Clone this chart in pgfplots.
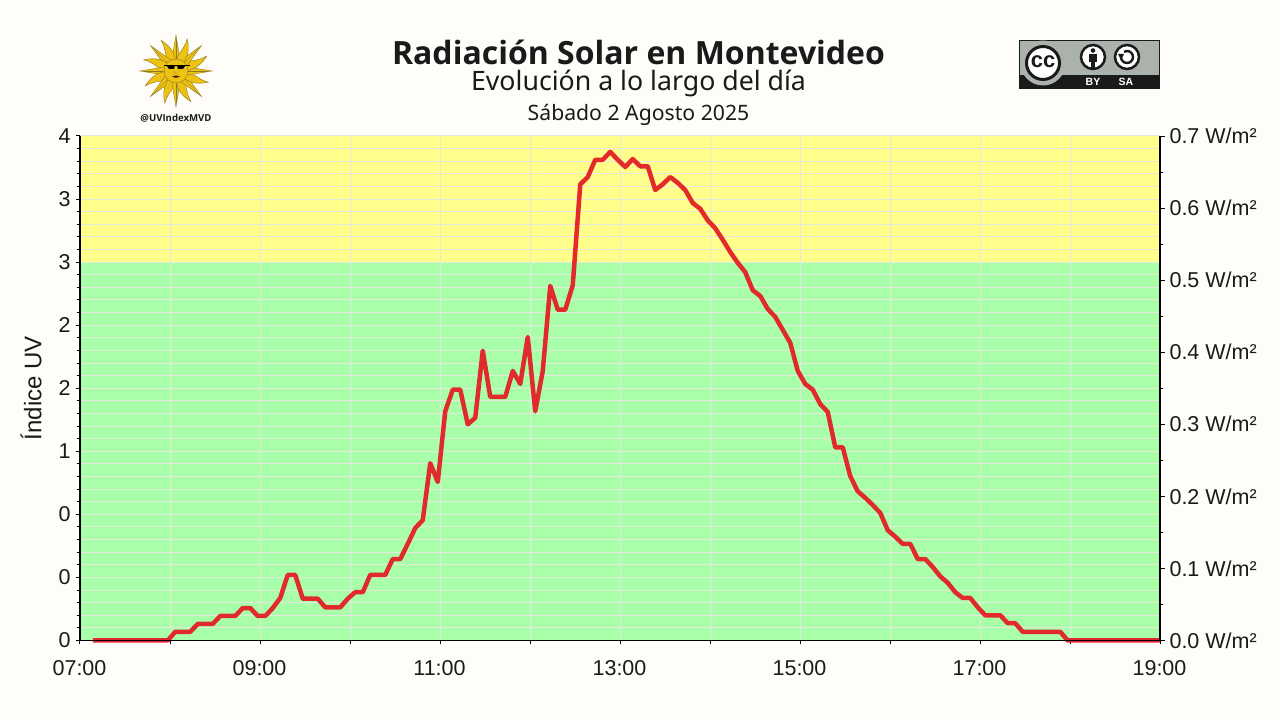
\documentclass[border=0pt]{standalone}
\usepackage{fontspec}
\setmainfont{Liberation Sans}
\newfontfamily\notosans{Noto Sans}
\newfontfamily\opensans{Open Sans}
\usepackage{pgfplots}
\pgfplotsset{compat=1.18}
\definecolor{pagebg}{HTML}{FFFDF9}
\definecolor{zonegreen}{HTML}{A9FFA9}
\definecolor{zoneyellow}{HTML}{FFFE8B}
\definecolor{gridc}{HTML}{E6E8DC}
\definecolor{curve}{HTML}{E31F26}
\definecolor{inkc}{HTML}{1A1A1A}
\definecolor{sun}{HTML}{EDC213}
\definecolor{sunline}{HTML}{8F7A22}
\definecolor{ccgrey}{HTML}{AAB2AB}
\newcommand{\fs}[1]{\fontsize{#1}{#1}\selectfont}
\begin{document}
\begin{tikzpicture}[x=1pt,y=1pt]
\useasboundingbox (0pt,0pt) rectangle (1280pt,720pt);
\fill[pagebg] (0pt,0pt) rectangle (1280pt,720pt);

%-- left axis: zones and grid
\begin{axis}[
    at={(80pt,79.5pt)}, anchor=south west,
    scale only axis, width=1080pt, height=504.5pt,
    xmin=420, xmax=1140, ymin=0, ymax=4,
    axis x line*=bottom, axis y line*=left,
    axis line style={black,line width=1.2pt,-},
    axis on top,
    xtick={420,480,540,600,660,720,780,840,900,960,1020,1080,1140},
    xticklabels={07:00,,09:00,,11:00,,13:00,,15:00,,17:00,,19:00},
    ytick={0,0.5,1,1.5,2,2.5,3,3.5,4},
    yticklabels={0,0,0,1,2,2,3,3,4},
    minor y tick num=4,
    grid=both,
    major grid style={gridc,line width=1pt},
    minor grid style={gridc,line width=1pt},
    tick align=outside,
    major tick length=4pt, minor tick length=3pt,
    tick style={black,line width=1pt},
    tick label style={font=\fs{21.5},text=inkc},
    xticklabel style={yshift=-12pt,xshift=-0.5pt},
    yticklabel style={xshift=-2pt},
    ylabel={Índice UV},
    every axis y label/.style={at={(axis description cs:-0.0454,0.5)},rotate=90,anchor=center,font=\fs{24},text=inkc},
]
\addplot[draw=none,fill=zonegreen] coordinates {(420,0)(1140,0)(1140,3)(420,3)} --cycle;
\addplot[draw=none,fill=zoneyellow] coordinates {(420,3)(1140,3)(1140,4)(420,4)} --cycle;
\end{axis}

%-- right axis: radiation in W/m2, x is minutes after midnight
\begin{axis}[
    at={(80pt,79.5pt)}, anchor=south west,
    scale only axis, width=1080pt, height=504.5pt,
    xmin=420, xmax=1140, ymin=0, ymax=0.7,
    axis x line*=bottom, axis y line*=right,
    axis line style={black,line width=1.2pt,-},
    axis on top, clip=false,
    xtick=\empty,
    ytick={0,0.1,0.2,0.3,0.4,0.5,0.6,0.7},
    yticklabels={0.0 W/m²,0.1 W/m²,0.2 W/m²,0.3 W/m²,0.4 W/m²,0.5 W/m²,0.6 W/m²,0.7 W/m²},
    minor ytick={0.05,0.15,0.25,0.35,0.45,0.55,0.65},
    tick align=outside,
    major tick length=5pt, minor tick length=3pt,
    tick style={black,line width=1pt},
    tick label style={font=\fs{21.5},text=inkc},
    yticklabel style={xshift=1pt},
]
\addplot[curve,line width=4.5pt,line join=round,opacity=0.95] coordinates {
    (428.5,0) (478.5,0)
    (483.5,.012) (488.5,.012) (493.5,.012) (498.5,.023) (503.5,.023) (508.5,.023)
    (513.5,.034) (518.5,.034) (523.5,.034) (528.5,.045) (533.5,.045) (538.5,.034)
    (543.5,.034) (548.5,.045) (553.5,.059) (558.5,.091) (563.5,.091) (568.5,.058)
    (573.5,.058) (578.5,.058) (583.5,.046) (588.5,.046) (593.5,.046) (598.5,.058)
    (603.5,.067) (608.5,.067) (613.5,.091) (618.5,.091) (623.5,.091) (628.5,.113)
    (633.5,.113) (638.5,.134) (643.5,.156) (648.5,.167) (653.5,.246) (658.5,.220)
    (663.5,.318) (668.5,.348) (673.5,.348) (678.5,.300) (683.5,.309) (688.5,.402)
    (693.5,.338) (698.5,.338) (703.5,.338) (708.5,.374) (713.5,.356) (718.5,.421)
    (723.5,.318) (728.5,.374) (733.5,.492) (738.5,.459) (743.5,.459) (748.5,.493)
    (753.5,.633) (758.5,.643) (763.5,.667) (768.5,.667) (773.5,.678) (778.5,.667)
    (783.5,.657) (788.5,.668) (793.5,.658) (798.5,.658) (803.5,.625) (808.5,.633)
    (813.5,.643) (818.5,.635) (823.5,.625) (828.5,.607) (833.5,.599) (838.5,.583)
    (843.5,.572) (848.5,.556) (853.5,.539) (858.5,.524) (863.5,.511) (868.5,.486)
    (873.5,.478) (878.5,.460) (883.5,.449) (888.5,.431) (893.5,.413) (898.5,.374)
    (903.5,.356) (908.5,.348) (913.5,.328) (918.5,.317) (923.5,.268) (928.5,.268)
    (933.5,.228) (938.5,.207) (943.5,.198) (948.5,.188) (953.5,.177) (958.5,.153)
    (963.5,.144) (968.5,.134) (973.5,.134) (978.5,.113) (983.5,.113) (988.5,.102)
    (993.5,.089) (998.5,.080) (1003.5,.067) (1008.5,.059) (1013.5,.059) (1018.5,.046)
    (1023.5,.035) (1028.5,.035) (1033.5,.035) (1038.5,.024) (1043.5,.024) (1048.5,.012)
    (1053.5,.012) (1058.5,.012) (1063.5,.012) (1068.5,.012) (1073.5,.012) (1078.5,0)
    (1140,0)
};
\end{axis}

%-- headings, positions in image pixels
\begin{scope}[shift={(0pt,720pt)},x=1pt,y=-1pt]
\node[font=\opensans\bfseries\fs{32},text=inkc] at (638.5,52) {Radiación Solar en Montevideo};
\node[font=\notosans\fs{26.7},text=inkc] at (638.5,83.5) {Evolución a lo largo del día};
\node[font=\notosans\fs{21.2},text=inkc] at (638.5,114.5) {Sábado 2 Agosto 2025};
\node[font=\opensans\bfseries\fs{9.6},text=inkc] at (176,118) {@UVIndexMVD};

%-- cc badge
\fill[ccgrey,draw=inkc,line width=1pt] (1019.5,40.5) rectangle (1159.5,88.5);
\fill[inkc] (1019,75) rectangle (1160,89);
\begin{scope}
\clip (1019,40) rectangle (1160,89);
\fill[ccgrey] (1043,63) circle (22.5);
\end{scope}
\fill[white,draw=inkc,line width=3pt] (1043,63) circle (16.5);
\node[font=\bfseries\fs{22},text=inkc] at (1043,61.5) {cc};
\fill[white,draw=inkc,line width=2.5pt] (1093,57) circle (12);
\fill[inkc] (1093,50.5) circle (2.3);
\fill[inkc] (1089,54) rectangle (1097,62);
\fill[inkc] (1091,62) rectangle (1095,68);
\fill[white,draw=inkc,line width=2.5pt] (1127,57) circle (12);
\draw[inkc,line width=2.4pt] (1121,57) arc[start angle=180,end angle=-120,radius=6];
\fill[inkc] (1118,54) -- (1124,54) -- (1121,60) -- cycle;
\node[font=\bfseries\fs{10.5},text=white] at (1093,82) {BY};
\node[font=\bfseries\fs{10.5},text=white] at (1126,82) {SA};
\end{scope}

%-- sun logo
\begin{scope}[shift={(176pt,649pt)},x=1pt,y=1pt]
\foreach \a in {0,45,...,315} {
  \begin{scope}[rotate=\a]
  \filldraw[fill=sun,draw=sunline,line width=.4pt] (-4.2,10.5) -- (0,36) -- (4.2,10.5) -- cycle;
  \draw[sunline,line width=.3pt] (0,12) -- (0,32);
  \end{scope}
  \begin{scope}[rotate=\a+22.5]
  \filldraw[fill=sun,draw=sunline,line width=.4pt] (-3.8,10.5) .. controls (-5.5,17) and (-0.5,22) .. (-2,34)
      .. controls (3.5,26) and (5.5,20) .. (3.8,10.5) -- cycle;
  \end{scope}
}
\filldraw[fill=sun,draw=sunline,line width=.4pt] (0,0) circle (12);
%-- sunglasses and face
\draw[black,line width=.8pt] (-12,5.5) -- (14,5.5);
\fill[black] (-9.5,5.5) -- (-1,5.5) -- (-2,2) -- (-7,2) -- cycle;
\fill[black] (1,5.5) -- (9.5,5.5) -- (7,2) -- (2,2) -- cycle;
\fill[black!75!sun] (-4,-5.5) .. controls (-1.5,-4) and (1.5,-4) .. (4,-5.5) .. controls (1.5,-7.5) and (-1.5,-7.5) .. (-4,-5.5);
\draw[sunline,line width=.4pt] (-1,0) -- (-1.5,-2) -- (1.5,-2);
\end{scope}
\end{tikzpicture}
\end{document}
